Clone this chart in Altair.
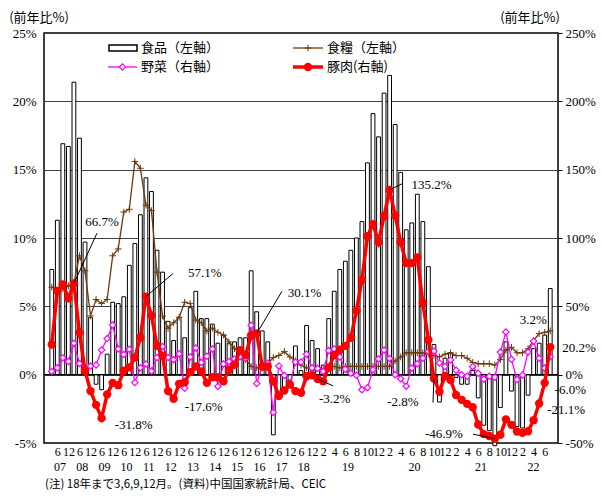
import json
import pandas as pd
import altair as alt

# ---------------- data ----------------
# periods: quarterly (3,6,9,12) 2007-2018, monthly 2019-01 .. 2022-07
periods = []
for yy in range(2007, 2019):
    for mm in (3, 6, 9, 12):
        periods.append((yy, mm))
for yy in range(2019, 2023):
    for mm in range(1, 13):
        if yy == 2022 and mm > 7:
            break
        periods.append((yy, mm))

# 食品 (left axis, %)
food = [7.7, 11.3, 16.9, 16.7, 21.4, 17.3, 9.7, 4.2, -0.7, -1.1, 1.5, 5.3,
        5.2, 5.7, 8.0, 9.6, 11.7, 14.4, 13.4, 9.1, 7.5, 3.9, 2.5, 4.2,
        2.7, 4.9, 6.1, 4.1, 4.1, 3.7, 2.3, 2.9, 2.3, 2.4, 2.7, 2.7,
        7.6, 4.6, 3.2, 2.4, -4.4, -1.2, -1.4, -0.4, 2.1, 0.3, 3.6, 2.5,
        1.9, 0.7, 4.1, 6.1, 7.7, 8.3, 9.1, 10.0, 11.2, 15.5, 19.1, 17.4,
        20.6, 21.9, 18.3, 14.8, 10.6, 11.1, 13.2, 11.2, 7.9, 2.2, -2.0, 1.2,
        1.6, -0.2, -0.7, -0.7, 0.3, -1.7, -3.7, -4.1, -5.2, -2.4, 2.4, -1.2,
        -3.8, -3.9, -1.5, 1.9, 2.3, 2.9, 6.3]

# 食糧 (left axis, %)
grain = [6.4, 6.2, 6.3, 6.5, 6.7, 8.7, 7.6, 4.3, 5.5, 5.2, 5.5, 8.7,
         9.2, 11.9, 12.1, 15.6, 15.1, 12.4, 12.0, 7.5, 4.3, 3.4, 3.8, 4.2,
         5.3, 5.2, 4.0, 3.8, 3.2, 3.4, 3.1, 2.9, 2.4, 1.9, 1.6, 1.1,
         0.6, 0.5, 0.5, 0.8, 1.25, 1.4, 1.7, 1.3, 1.0, 0.7, 0.5, 0.4,
         0.5, 0.4, 0.5, 0.6, 0.5, 0.6, 0.6, 0.6, 0.6, 0.6, 0.6, 0.6,
         0.6, 0.6, 1.0, 1.3, 1.6, 1.6, 1.6, 1.6, 1.5, 1.4, 1.3, 1.5,
         1.6, 1.4, 1.4, 1.2, 0.9, 0.8, 0.8, 0.8, 0.7, 1.1, 1.8, 2.0,
         1.6, 1.6, 1.9, 2.5, 3.0, 3.1, 3.2]

# 野菜 (right axis, %)
veg = [2.4, 5.0, 12.4, 9.6, 23.0, 8.2, 4.2, 6.3, 7.0, 18.0, 26.4, 36.3,
       18.8, 14.8, 18.6, -5.8, 5.0, 7.8, 2.6, 12.5, 20.6, 12.6, 11.0, 15.3,
       -10.0, 13.0, 19.5, 9.0, 13.4, 18.8, -8.6, 7.8, 9.6, 11.5, 13.2, 12.0,
       36.1, -6.5, 6.0, 8.4, -27.6, 6.4, -0.6, -7.2, 9.3, 9.3, 15.0, 5.0,
       4.5, 2.4, 17.6, 18.8, 13.0, 4.0, 1.0, -0.5, -11.0, -9.6, 3.6, 11.5,
       18.0, 11.8, 0.0, -3.0, -8.4, 4.8, 8.0, 12.0, 17.0, 17.3, 8.6, 6.0,
       10.8, 3.3, 0.0, -1.2, 6.0, 1.0, -3.3, -1.2, -1.9, 16.5, 31.3, 11.2,
       -3.6, -0.3, 16.5, 24.5, 12.0, 4.8, 13.2]

# 豚肉 (right axis, %)
pork = [22.1, 61.3, 66.1, 55.8, 66.7, 30.8, 2.9, -12.0, -22.1, -31.8, -14.4, -6.0,
        -7.7, 2.9, 5.3, 12.5, 27.2, 57.1, 43.3, 21.2, 13.9, -12.0, -17.6, -6.7,
        -5.5, 1.9, 6.0, 2.4, -6.0, -1.9, -1.9, -4.8, 3.6, 7.2, 18.0, 14.4,
        28.8, 30.1, 6.0, 6.0, -4.8, -15.6, -11.5, -7.2, -12.0, -13.2, -1.2, -0.5,
        -3.2, -4.8, 5.1, 14.4, 18.2, 21.1, 27.0, 46.7, 69.3, 101.3, 110.2, 97.0,
        116.0, 135.2, 116.4, 96.9, 81.7, 81.6, 85.7, 52.6, 25.5, -2.8, -12.5, -1.0,
        -3.9, -14.9, -18.4, -21.4, -23.8, -36.5, -43.5, -44.9, -46.9, -44.0, -32.7, -36.7,
        -41.6, -42.5, -41.4, -33.3, -21.1, -6.0, 20.2]

series_names = ["食品（左軸）", "食糧（左軸）", "野菜（右軸）", "豚肉(右軸)"]
unit_title = "(前年比%)"
note_text = "(注) 18年まで3,6,9,12月。(資料)中国国家統計局、CEIC"

# tick labels on x axis
tick_text = []
for yy, mm in periods:
    if yy <= 2018:
        tick_text.append(str(mm) if mm in (6, 12) else "")
    else:
        tick_text.append(str(mm) if mm % 2 == 0 else "")
tick_vals = [i for i, t in enumerate(tick_text) if t]

year_list = sorted(set(p[0] for p in periods))
year_df = pd.DataFrame({
    "idx": [sum(i for i, p in enumerate(periods) if p[0] == yv) /
            sum(1 for p in periods if p[0] == yv) for yv in year_list],
    "year": [str(yv)[2:] for yv in year_list],
})

df = pd.DataFrame({"idx": list(range(len(periods))), "food": food,
                   "grain": grain, "veg": veg, "pork": pork})

# ---------------- styling ----------------
W, H = 514, 410
K = H / 416.0  # vertical factor for hand-placed leader ends
SERIF = "Liberation Serif"
CJK = "Noto Sans CJK JP"
BROWN = "#6e3a0c"
MAG = "#ff00ff"
RED = "#ff0000"
PLUS = "M-1,0L1,0M0,-1L0,1"

xs = alt.Scale(domain=[-0.5, len(periods) - 0.5], nice=False, zero=False)
x_axis = alt.Axis(values=tick_vals, labelExpr=json.dumps(tick_text) + "[datum.value]",
                  domain=False, ticks=False, grid=False, labelPadding=3,
                  labelFontSize=12, labelFont=SERIF, labelColor="black",
                  labelOverlap=False, labelFlush=False, labelAngle=0, title=None)
x_enc = alt.X("idx:Q", scale=xs, axis=x_axis)

yl_scale = alt.Scale(domain=[-5, 25], nice=False, zero=False)
yl_axis = alt.Axis(values=[-5, 0, 5, 10, 15, 20, 25], labelExpr="datum.value + '%'",
                   orient="left", grid=True, gridColor="#404040", gridWidth=1,
                   ticks=False, domain=False, labelPadding=8, labelFontSize=13,
                   labelFont=SERIF, labelColor="black", title=None)
yr_scale = alt.Scale(domain=[-50, 250], nice=False, zero=False)
yr_axis = alt.Axis(values=[-50, 0, 50, 100, 150, 200, 250], labelExpr="datum.value + '%'",
                   orient="right", grid=False, ticks=True, tickSize=4, tickColor="black",
                   domain=False, labelPadding=3, labelFontSize=13,
                   labelFont=SERIF, labelColor="black", title=None)


def yl(field):
    return alt.Y(field + ":Q", scale=yl_scale, axis=yl_axis)


def yr(field):
    return alt.Y(field + ":Q", scale=yr_scale, axis=yr_axis)


base = alt.Chart(df)
one = pd.DataFrame({"k": [0]})

# ---------------- left group ----------------
bars = base.mark_bar(size=3.8, fill="white", stroke="black", strokeWidth=1,
                     orient="vertical").encode(x=x_enc, y=yl("food"), y2=alt.datum(0))
zero_rule = alt.Chart(pd.DataFrame({"z": [0]})).mark_rule(
    color="black", strokeWidth=1.2).encode(y=yl("z"))
grain_line = base.mark_line(color=BROWN, strokeWidth=1.3).encode(x=x_enc, y=yl("grain"))
grain_pts = base.mark_point(shape=PLUS, size=45, stroke=BROWN, strokeWidth=1,
                            opacity=1).encode(x=x_enc, y=yl("grain"))


def note(values, i, dx, dy, align, yfun):
    d = pd.DataFrame({"idx": [i], "v": [values[i]], "label": [f"{values[i]:.1f}%"]})
    return alt.Chart(d).mark_text(dx=dx, dy=dy * K, align=align, baseline="middle",
                                  font=SERIF, fontSize=13, color="black").encode(
        x=x_enc, y=yfun("v"), text="label:N")


def leader(values, i, px, py, yfun):
    d = pd.DataFrame({"idx": [i], "v": [values[i]]})
    return alt.Chart(d).mark_rule(color="black", strokeWidth=1).encode(
        x=x_enc, y=yfun("v"), x2=alt.value(px), y2=alt.value(py * K))


n_last = len(periods) - 1
left = alt.layer(bars, zero_rule, grain_line, grain_pts,
                 note(grain, n_last, -17, -11, "center", yl))

# ---------------- right group ----------------
veg_line = base.mark_line(color=MAG, strokeWidth=1.3).encode(x=x_enc, y=yr("veg"))
veg_pts = base.mark_point(shape="diamond", size=40, filled=True, fill="white",
                          stroke=MAG, strokeWidth=1.2, opacity=1).encode(x=x_enc, y=yr("veg"))
pork_line = base.mark_line(color=RED, strokeWidth=3.5).encode(x=x_enc, y=yr("pork"))
pork_pts = base.mark_circle(size=70, color=RED, opacity=1).encode(x=x_enc, y=yr("pork"))

right = alt.layer(
    veg_line, veg_pts, pork_line, pork_pts,
    leader(pork, 4, 53, 203, yr), note(pork, 4, 28, -62, "center", yr),
    leader(pork, 17, 129, 244, yr), note(pork, 17, 42, -24, "left", yr),
    note(pork, 9, 32, 7, "center", yr),
    note(pork, 22, 30, 8, "center", yr),
    leader(pork, 37, 238, 262, yr), note(pork, 37, 31, -41, "left", yr),
    leader(pork, 48, 289, 358, yr), note(pork, 48, 17, 20, "center", yr),
    leader(pork, 61, 358, 153, yr), note(pork, 61, 22, -5, "left", yr),
    leader(pork, 69, 389, 375, yr), note(pork, 69, -31, 24, "center", yr),
    leader(pork, 80, 429, 407, yr), note(pork, 80, -51, -5, "center", yr),
    note(pork, n_last, 12, 1, "left", yr),
    note(pork, n_last - 1, 10, 7, "left", yr),
    note(pork, n_last - 2, 8, 7, "left", yr),
)

# ---------------- legend / titles ----------------
def ltext(txt, xv, yv):
    return alt.Chart(one).mark_text(text=txt, align="left", baseline="middle",
                                    font=CJK, fontSize=13, color="black").encode(
        x=alt.value(xv), y=alt.value(yv))


legend = alt.layer(
    alt.Chart(one).mark_rect(fill="white", stroke="black", strokeWidth=1.5).encode(
        x=alt.value(65), x2=alt.value(93), y=alt.value(12), y2=alt.value(18)),
    ltext(series_names[0], 97, 15),
    alt.Chart(one).mark_rule(color=BROWN, strokeWidth=1.3).encode(
        x=alt.value(249), x2=alt.value(279), y=alt.value(15)),
    alt.Chart(one).mark_point(shape=PLUS, size=45, stroke=BROWN, strokeWidth=1, opacity=1).encode(
        x=alt.value(264), y=alt.value(15)),
    ltext(series_names[1], 283, 15),
    alt.Chart(one).mark_rule(color=MAG, strokeWidth=1.3).encode(
        x=alt.value(64), x2=alt.value(93), y=alt.value(34)),
    alt.Chart(one).mark_point(shape="diamond", size=40, filled=True, fill="white",
                              stroke=MAG, strokeWidth=1.2, opacity=1).encode(
        x=alt.value(78.5), y=alt.value(34)),
    ltext(series_names[2], 97, 34),
    alt.Chart(one).mark_rule(color=RED, strokeWidth=3.5).encode(
        x=alt.value(249), x2=alt.value(279), y=alt.value(34)),
    alt.Chart(one).mark_circle(size=70, color=RED, opacity=1).encode(
        x=alt.value(264), y=alt.value(34)),
    ltext(series_names[3], 283, 34),
)

titles = alt.layer(
    alt.Chart(one).mark_text(text=unit_title, align="center", baseline="middle",
                             font=CJK, fontSize=13, color="black").encode(
        x=alt.value(-5), y=alt.value(-15)),
    alt.Chart(one).mark_text(text=unit_title, align="center", baseline="middle",
                             font=CJK, fontSize=13, color="black").encode(
        x=alt.value(486), y=alt.value(-15)),
    alt.Chart(one).mark_text(text=note_text, align="left", baseline="alphabetic",
                             font=CJK, fontSize=11.5, color="black").encode(
        x=alt.value(1), y=alt.value(455)),
)

years = alt.Chart(year_df).mark_text(baseline="middle", font=SERIF, fontSize=12,
                                     color="black").encode(
    x=x_enc, y=alt.value(434), text="year:N")

chart = alt.layer(left, right, legend, titles, years).resolve_scale(
    y="independent"
).properties(
    width=W, height=H,
    autosize=alt.AutoSizeParams(type="none"),
    padding={"left": 36, "top": 25, "right": 38, "bottom": 49},
    background="white",
).configure_view(stroke="black", strokeWidth=1.5)

chart.save("out.html", embed_options={"renderer": "svg", "actions": False})
